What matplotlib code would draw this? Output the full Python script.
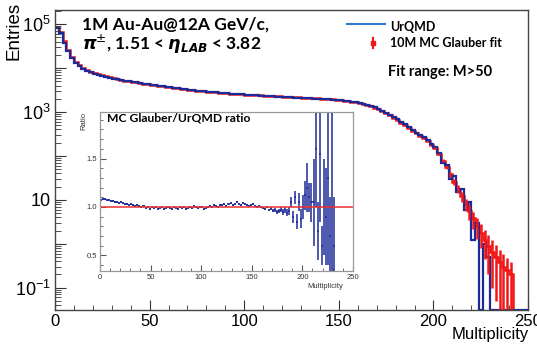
import matplotlib.pyplot as plt
import numpy as np
from matplotlib.ticker import MultipleLocator, LogLocator, FuncFormatter, NullFormatter

plt.rcParams['font.family'] = ['Liberation Sans', 'DejaVu Sans']
plt.rcParams['mathtext.fontset'] = 'dejavusans'

# multiplicity histograms, bins of width 2 from 0 to 250
bin_width = 2
urqmd = [80000, 62000, 38000, 24000, 17000, 13000, 11000, 9600, 8700, 8000,
         7500, 7100, 6700, 6300, 6000, 5700, 5500, 5300, 5100, 4950,
         4850, 4700, 4550, 4400, 4300, 4200, 4100, 3950, 3850, 3750,
         3650, 3600, 3500, 3400, 3300, 3250, 3150, 3050, 3000, 2950,
         2900, 2850, 2800, 2750, 2700, 2660, 2620, 2580, 2550, 2520,
         2480, 2450, 2420, 2400, 2370, 2340, 2310, 2280, 2250, 2230,
         2200, 2180, 2150, 2130, 2100, 2080, 2060, 2040, 2020, 2000,
         1980, 1960, 1930, 1900, 1870, 1840, 1800, 1760, 1720, 1680,
         1620, 1550, 1470, 1380, 1280, 1180, 1070, 970, 870, 770,
         680, 600, 520, 450, 390, 340, 300, 265, 225, 185,
         160, 115, 70, 62, 30, 35, 15, 18, 6, 9,
         1.2, 3, 0, 1.0, 0.5, 0, 0, 0, 0, 0,
         0, 0, 0, 0, 0]
glauber = [85000, 67000, 41000, 25700, 18200, 13800, 11700, 10100, 9100, 8350,
           7800, 7350, 6900, 6500, 6150, 5850, 5600, 5400, 5200, 5000,
           4850, 4700, 4550, 4400, 4300, 4200, 4080, 3950, 3850, 3750,
           3650, 3580, 3480, 3400, 3300, 3230, 3150, 3050, 3000, 2950,
           2900, 2850, 2800, 2750, 2700, 2660, 2620, 2580, 2550, 2520,
           2490, 2460, 2430, 2400, 2380, 2350, 2330, 2310, 2280, 2260,
           2240, 2220, 2200, 2180, 2150, 2130, 2100, 2080, 2060, 2040,
           2010, 1990, 1960, 1930, 1890, 1860, 1820, 1780, 1730, 1690,
           1620, 1540, 1450, 1350, 1250, 1150, 1040, 940, 840, 745,
           655, 575, 500, 435, 375, 330, 290, 250, 215, 180,
           150, 110, 78, 55, 38, 26, 18, 12, 8, 5.5,
           3.8, 2.6, 1.8, 1.25, 0.9, 0.65, 0.5, 0.38, 0.3, 0.25,
           0.2, 0, 0, 0, 0]
# errors of the fit in the tail, bins starting at M=200
tail_start = 200
glauber_tail_err = [8, 7, 6, 5, 5, 4, 4, 3, 2.5, 2,
                    1.6, 1.3, 1.0, 0.8, 0.7, 0.55, 0.45, 0.35, 0.28, 0.23,
                    0.19]

# MC Glauber / UrQMD ratio, same binning, up to M=232
ratio = [1.07, 1.08, 1.08, 1.07, 1.07, 1.06, 1.06, 1.05,
         1.05, 1.04, 1.05, 1.04, 1.03, 1.03, 1.02, 1.03, 1.02, 1.01, 1.02, 1.01,
         1.0, 1.01, 0.99, 1.0, 0.98, 1.0, 0.99, 1.0, 0.98, 0.99,
         1.0, 0.98, 0.99, 1.0, 0.99, 0.98, 1.0, 0.99, 0.98, 1.0,
         0.99, 1.0, 0.98, 0.99, 1.0, 0.99, 1.01, 1.0, 0.99, 1.0,
         1.0, 0.98, 0.99, 1.0, 1.01, 1.0, 1.02, 1.01, 1.0, 1.02,
         1.02, 1.03, 1.01, 1.03, 1.04, 1.02, 1.03, 1.05, 1.03, 1.02,
         1.04, 1.03, 1.02, 1.01, 1.02, 1.03, 1.01, 1.0, 1.01, 1.0,
         0.99, 0.98, 1.0, 0.97, 0.98, 0.96, 0.97, 0.95, 0.96, 0.97,
         0.95, 0.97, 0.94, 0.96, 1.05, 0.9, 1.1, 0.85, 1.05, 0.88,
         1.0, 1.12, 1.2, 1.1, 1.05, 1.05, 1.6, 0.75, 1.55, 0.6,
         1.0, 0.9, 1.3, 0.7, 1.0, 0.6]
ratio_err = [0.012, 0.012, 0.012, 0.012, 0.011, 0.011, 0.011, 0.011,
             0.01, 0.01, 0.01, 0.01, 0.01, 0.01, 0.01, 0.01, 0.01, 0.01, 0.01, 0.01,
             0.01, 0.01, 0.01, 0.01, 0.01, 0.01, 0.01, 0.01, 0.01, 0.01,
             0.01, 0.01, 0.01, 0.01, 0.01, 0.01, 0.01, 0.01, 0.01, 0.01,
             0.01, 0.01, 0.01, 0.01, 0.01, 0.01, 0.01, 0.01, 0.01, 0.01,
             0.01, 0.01, 0.01, 0.01, 0.01, 0.01, 0.01, 0.01, 0.01, 0.01,
             0.01, 0.01, 0.01, 0.01, 0.01, 0.01, 0.01, 0.01, 0.01, 0.01,
             0.01, 0.01, 0.01, 0.01, 0.01, 0.011, 0.011, 0.011, 0.012, 0.012,
             0.012, 0.012, 0.013, 0.014, 0.015, 0.016, 0.018, 0.02, 0.022, 0.025,
             0.03, 0.03, 0.035, 0.04, 0.05, 0.06, 0.07, 0.08, 0.09, 0.1,
             0.12, 0.15, 0.25, 0.15, 0.2, 0.45, 0.6, 0.3, 0.7, 0.2,
             0.5, 0.5, 0.9, 0.4, 1.5, 0.5]

edges = np.arange(0, bin_width * len(urqmd) + 1, bin_width)
centers = edges[:-1] + bin_width / 2

blue = '#1c2a99'
red = '#f01818'
ymin, ymax = 0.031, 2.1e5

fig = plt.figure(figsize=(5.37, 3.45), dpi=100)
ax = fig.add_axes([0.1024, 0.1014, 0.881, 0.8696])

# empty bins are drawn on the bottom of the frame like ROOT does
gl = np.array(glauber, dtype=float)
ur = np.array(urqmd, dtype=float)
ax.stairs(np.where(gl > 0, gl, ymin), edges, color=red, lw=1.8, baseline=None)
t0 = int(tail_start / bin_width)
tc = centers[t0:t0 + len(glauber_tail_err)]
ax.errorbar(tc, gl[t0:t0 + len(glauber_tail_err)], yerr=glauber_tail_err,
            fmt='none', ecolor=red, elinewidth=1.8)
ax.stairs(np.where(ur > 0, ur, ymin), edges, color=blue, lw=1.6, baseline=None)

ax.set_yscale('log')
ax.set_xlim(0, 250)
ax.set_ylim(ymin, ymax)
ax.xaxis.set_major_locator(MultipleLocator(50))
ax.xaxis.set_minor_locator(MultipleLocator(10))
ax.yaxis.set_major_locator(LogLocator(base=10, numticks=20))
ax.yaxis.set_minor_locator(LogLocator(base=10, subs=np.arange(2, 10), numticks=20))
ax.yaxis.set_minor_formatter(NullFormatter())


def log_label(v, pos):
    e = int(round(np.log10(v)))
    if e % 2 == 0:
        return ''
    if e == 1:
        return '10'
    return r'$\mathregular{10^{%d}}$' % e


ax.yaxis.set_major_formatter(FuncFormatter(log_label))
ax.tick_params(which='both', direction='in', top=False, right=False, color='#333333')
ax.tick_params(axis='x', which='major', length=7, labelsize=12, pad=3)
ax.tick_params(axis='x', which='minor', length=3.5)
ax.tick_params(axis='y', which='major', length=8, labelsize=13, pad=3)
ax.tick_params(axis='y', which='minor', length=4)
for s in ax.spines.values():
    s.set_color('#444444')
    s.set_linewidth(1.0)

fig.text(0.026, 0.995, 'Entries', rotation=90, ha='center', va='top', fontsize=13.5)
fig.text(0.985, 1 - 335 / 345, 'Multiplicity', ha='right', va='center', fontsize=12)

bold = dict(family=['Lato', 'DejaVu Sans'], fontweight='bold', transform=ax.transAxes)
ax.text(0.057, 0.953, '1M Au-Au@12A GeV/c,', fontsize=12.5, va='center', **bold)
ax.text(0.057, 0.885, r'$\mathbfit{\pi}^{\pm}$, 1.51 < $\mathbfit{\eta}_{\mathbfit{LAB}}$ < 3.82',
        fontsize=12.5, va='center', **bold)

# legend drawn by hand to sit where the original one is
ax.plot([0.617, 0.698], [0.953, 0.953], transform=ax.transAxes, color='#2a78d0', lw=1.5)
ax.text(0.708, 0.945, 'UrQMD', fontsize=9, va='center', **bold)
ax.plot([0.672, 0.672], [0.872, 0.908], transform=ax.transAxes, color=red, lw=1.6)
ax.plot([0.672], [0.89], 's', ms=2.5, transform=ax.transAxes, color=red)
ax.text(0.708, 0.89, '10M MC Glauber fit', fontsize=9, va='center', **bold)
ax.text(0.704, 0.793, 'Fit range: M>50', fontsize=10.5, va='center', **bold)

# inset with the ratio
axi = fig.add_axes([0.1862, 0.2145, 0.4711, 0.461])
nr = len(ratio)
axi.errorbar(centers[:nr], ratio, xerr=bin_width / 2, yerr=ratio_err,
             fmt='none', ecolor=blue, elinewidth=1.1)
axi.axhline(1.0, color='#ee3030', lw=1.1)
axi.set_xlim(0, 250)
axi.set_ylim(0.34, 1.98)
axi.xaxis.set_major_locator(MultipleLocator(50))
axi.xaxis.set_minor_locator(MultipleLocator(10))
axi.yaxis.set_major_locator(MultipleLocator(0.5))
axi.yaxis.set_minor_locator(MultipleLocator(0.1))
axi.tick_params(which='both', direction='in', top=False, right=False,
                labelsize=5.5, pad=2, color='#555555', labelcolor='#333333')
axi.tick_params(which='major', length=4)
axi.tick_params(which='minor', length=2)
for s in axi.spines.values():
    s.set_color('#999999')
    s.set_linewidth(0.9)
axi.text(0.028, 0.965, 'MC Glauber/UrQMD ratio', fontsize=8.7, va='center',
         family=['Lato', 'DejaVu Sans'], fontweight='bold', transform=axi.transAxes)
fig.text(0.156, 0.675, 'Ratio', rotation=90, ha='center', va='top', fontsize=5.5, color='#333333')
fig.text(0.639, 1 - 287 / 345, 'Multiplicity', ha='right', va='center', fontsize=5.5, color='#333333')

fig.savefig('out.png', dpi=100)
plt.close(fig)
